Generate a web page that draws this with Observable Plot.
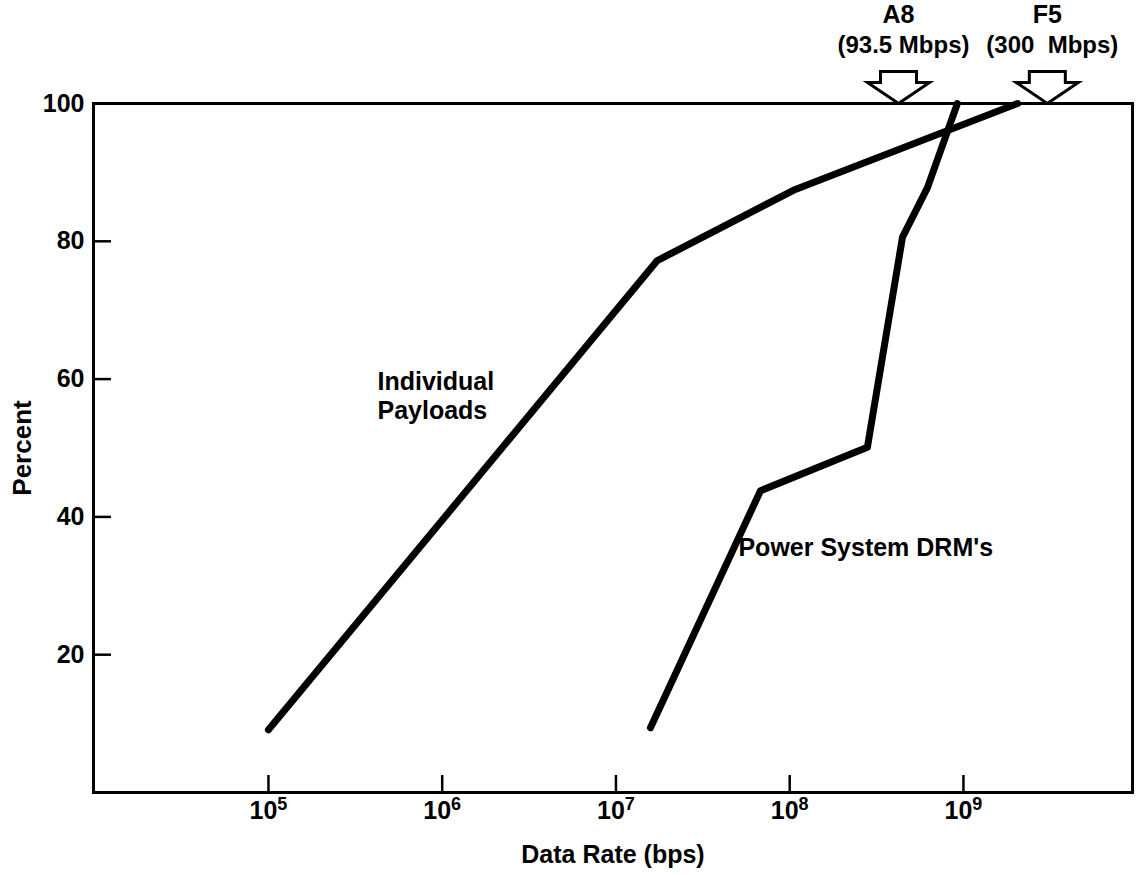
<!DOCTYPE html>
<html><head><meta charset="utf-8">
<script src="https://cdn.jsdelivr.net/npm/d3@7"></script>
<script src="https://cdn.jsdelivr.net/npm/@observablehq/plot@0.6"></script>
<style>body{margin:0;background:#fff}</style>
</head><body><div id="chart"></div>
<script>
// ---- data ----
const xDomain = [9840, 9.4e9];
const xTicks = [1e5, 1e6, 1e7, 1e8, 1e9];
const yTicks = [20, 40, 60, 80, 100];

const payloadRate = [1e5, 1.73e7, 1.05e8, 2.05e9];
const payloadPct  = [9.1, 77.2, 87.4, 100];

const drmRate = [1.58e7, 6.79e7, 2.80e8, 4.46e8, 6.21e8, 9.23e8];
const drmPct  = [9.4, 43.8, 50.1, 80.6, 87.8, 100];

const curveLabels = ["Individual\nPayloads", "Power System DRM's"];
const curveLabelRate = [4.24e5, 5.07e7];
const curveLabelPct = [57.6, 35.7];

const arrowNames = ["A8", "F5"];
const arrowRates = ["(93.5 Mbps)", "(300\u00a0 Mbps)"];
const arrowRate = [4.23e8, 3.04e9];
const arrowPct = [100, 100];

// ---- marks ----
const payloads = payloadRate.map((r, i) => ({rate: r, pct: payloadPct[i]}));
const drms = drmRate.map((r, i) => ({rate: r, pct: drmPct[i]}));

const arrowSymbol = {
  draw(ctx) {
    ctx.moveTo(0, 0);
    ctx.lineTo(31, -21);
    ctx.lineTo(18, -21);
    ctx.lineTo(18, -32);
    ctx.lineTo(-18, -32);
    ctx.lineTo(-18, -21);
    ctx.lineTo(-31, -21);
    ctx.closePath();
  }
};

const font = "'Liberation Sans', Arial, Helvetica, sans-serif";

const chart = Plot.plot({
  width: 1139, height: 875,
  marginLeft: 93, marginRight: 7, marginTop: 103, marginBottom: 83,
  style: {fontFamily: font, fontWeight: "bold", fontSize: "25px", color: "#000", background: "#fff"},
  x: {type: "log", domain: xDomain},
  y: {domain: [0, 100]},
  marks: [
    Plot.axisX(xTicks, {tickSize: -17, tickPadding: 26, strokeWidth: 2.5, fontSize: 25, fontWeight: "bold",
      tickFormat: d => "10^" + Math.round(Math.log10(d)), label: null}),
    Plot.axisY(yTicks, {tickSize: -18, tickPadding: 27, strokeWidth: 2.5, fontSize: 25, fontWeight: "bold", label: null}),
    Plot.frame({stroke: "#000", strokeWidth: 3}),
    Plot.line(payloads, {x: "rate", y: "pct", stroke: "#000", strokeWidth: 7, strokeLinecap: "round", strokeLinejoin: "round"}),
    Plot.line(drms, {x: "rate", y: "pct", stroke: "#000", strokeWidth: 7, strokeLinecap: "round", strokeLinejoin: "round"}),
    Plot.text(curveLabels, {x: (d, i) => curveLabelRate[i], y: (d, i) => curveLabelPct[i], text: d => d,
      textAnchor: "start", lineAnchor: "middle", fontSize: 25, fontWeight: "bold", lineHeight: 1.15}),
    Plot.dot(arrowNames, {x: (d, i) => arrowRate[i], y: (d, i) => arrowPct[i], symbol: arrowSymbol,
      fill: "#fff", stroke: "#000", strokeWidth: 3, r: 10}),
    Plot.text(arrowNames, {x: (d, i) => arrowRate[i], y: (d, i) => arrowPct[i], text: d => d,
      lineAnchor: "bottom", dy: -81, fontSize: 25, fontWeight: "bold"}),
    Plot.text(arrowRates, {x: (d, i) => arrowRate[i], y: (d, i) => arrowPct[i], text: d => d,
      lineAnchor: "bottom", dy: -51, dx: 5, fontSize: 24, fontWeight: "bold", letterSpacing: "1.2px"}),
    Plot.text(["Percent"], {frameAnchor: "left", textAnchor: "middle", rotate: -90, dx: -71, fontSize: 26, fontWeight: "bold"}),
    Plot.text(["Data Rate (bps)"], {frameAnchor: "bottom", textAnchor: "middle", dy: 70, fontSize: 25, fontWeight: "bold", wordSpacing: "3px"})
  ]
});

document.getElementById("chart").appendChild(chart);

// superscript exponents on the x tick labels
d3.select(chart).selectAll('g[aria-label="x-axis tick label"] text').each(function () {
  const t = d3.select(this);
  const s = t.text();
  const m = s.match(/^10\^(\d+)$/);
  if (!m) return;
  t.text(null);
  t.append("tspan").text("10");
  t.append("tspan").attr("dy", "-0.5em").attr("font-size", "18px").text(m[1]);
});
</script></body></html>
